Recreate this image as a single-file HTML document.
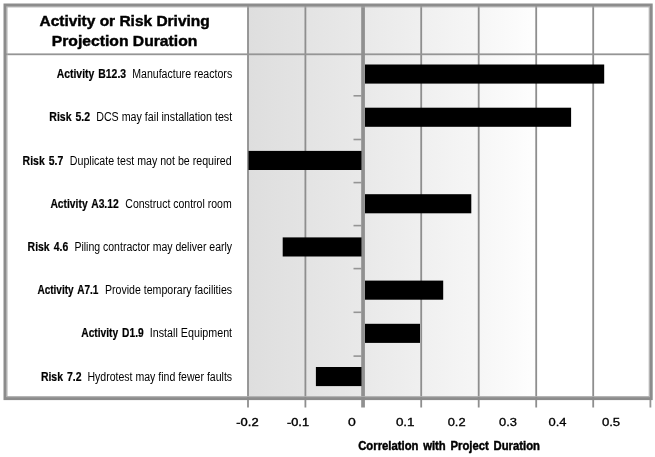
<!DOCTYPE html>
<html lang="en"><head><meta charset="utf-8"><title>Correlation with Project Duration</title>
<style>html,body{margin:0;padding:0;background:#fff}svg{display:block}text{font-family:"Liberation Sans",sans-serif;fill:#000}.b{stroke:#000;stroke-width:0.45}.m{stroke:#000;stroke-width:0.2}.n{stroke:#000;stroke-width:0.4}.p{stroke:#000;stroke-width:0.3}</style>
</head><body>
<svg width="655" height="457" viewBox="0 0 655 457">
<defs><linearGradient id="g" x1="0" y1="0" x2="1" y2="0"><stop offset="0" stop-color="#dedede"/><stop offset="0.4" stop-color="#e9e9e9"/><stop offset="0.8" stop-color="#f6f6f6"/><stop offset="1" stop-color="#fefefe"/></linearGradient></defs>
<rect width="655" height="457" fill="#fff"/>
<rect x="248" y="5" width="288.2" height="393" fill="url(#g)"/>
<rect x="247.1" y="5" width="1.8" height="402.5" fill="#8e8e8e"/>
<rect x="304.5" y="5" width="1.8" height="402.5" fill="#8e8e8e"/>
<rect x="420.3" y="5" width="1.8" height="402.5" fill="#8e8e8e"/>
<rect x="477.8" y="5" width="1.8" height="402.5" fill="#8e8e8e"/>
<rect x="535.3" y="5" width="1.8" height="402.5" fill="#8e8e8e"/>
<rect x="592.3" y="5" width="1.8" height="402.5" fill="#8e8e8e"/>
<rect x="5" y="53.4" width="645" height="1.8" fill="#959595"/>
<rect x="361.2" y="5" width="3.7" height="402.5" fill="#909090"/>
<rect x="353.5" y="95.0" width="8" height="1.6" fill="#959595"/>
<rect x="353.5" y="138.7" width="8" height="1.6" fill="#959595"/>
<rect x="353.5" y="181.8" width="8" height="1.6" fill="#959595"/>
<rect x="353.5" y="224.8" width="8" height="1.6" fill="#959595"/>
<rect x="353.5" y="267.8" width="8" height="1.6" fill="#959595"/>
<rect x="353.5" y="311.5" width="8" height="1.6" fill="#959595"/>
<rect x="353.5" y="355.3" width="8" height="1.6" fill="#959595"/>
<rect x="649.5" y="398" width="1.8" height="9.5" fill="#959595"/>
<rect x="7.0" y="6.9" width="642.2" height="389.7" fill="none" stroke="#adadad" stroke-width="1"/>
<rect x="5.0" y="5.0" width="646.2" height="393.6" fill="none" stroke="#8c8c8c" stroke-width="3"/>
<rect x="365.0" y="64.5" width="239.2" height="19.1" fill="#000"/>
<rect x="365.0" y="107.7" width="206.1" height="19.1" fill="#000"/>
<rect x="248.5" y="150.9" width="113.0" height="19.1" fill="#000"/>
<rect x="365.0" y="194.2" width="106.3" height="19.1" fill="#000"/>
<rect x="282.7" y="237.4" width="78.8" height="19.1" fill="#000"/>
<rect x="365.0" y="280.6" width="78.2" height="19.1" fill="#000"/>
<rect x="365.0" y="323.8" width="55.0" height="19.1" fill="#000"/>
<rect x="315.9" y="367.0" width="45.6" height="19.1" fill="#000"/>
<text class="b" x="39.5" y="26.2" font-size="15.4" font-weight="700" textLength="170.2" lengthAdjust="spacingAndGlyphs">Activity or Risk Driving</text>
<text class="b" x="51.8" y="45.7" font-size="15.4" font-weight="700" textLength="145.5" lengthAdjust="spacingAndGlyphs">Projection Duration</text>
<text class="m" x="56.7" y="78.2" font-size="12.3" font-weight="700" word-spacing="1.3" textLength="69.4" lengthAdjust="spacingAndGlyphs">Activity B12.3</text>
<text x="132.2" y="78.2" font-size="12.3" textLength="100.0" lengthAdjust="spacingAndGlyphs">Manufacture reactors</text>
<text class="m" x="49.3" y="121.4" font-size="12.3" font-weight="700" word-spacing="1.3" textLength="40.8" lengthAdjust="spacingAndGlyphs">Risk 5.2</text>
<text x="96.2" y="121.4" font-size="12.3" textLength="136.0" lengthAdjust="spacingAndGlyphs">DCS may fail installation test</text>
<text class="m" x="22.6" y="164.6" font-size="12.3" font-weight="700" word-spacing="1.3" textLength="40.7" lengthAdjust="spacingAndGlyphs">Risk 5.7</text>
<text x="69.8" y="164.6" font-size="12.3" textLength="161.9" lengthAdjust="spacingAndGlyphs">Duplicate test may not be required</text>
<text class="m" x="50.4" y="207.8" font-size="12.3" font-weight="700" word-spacing="1.3" textLength="68.3" lengthAdjust="spacingAndGlyphs">Activity A3.12</text>
<text x="125.3" y="207.8" font-size="12.3" textLength="106.4" lengthAdjust="spacingAndGlyphs">Construct control room</text>
<text class="m" x="27.6" y="251.0" font-size="12.3" font-weight="700" word-spacing="1.3" textLength="40.6" lengthAdjust="spacingAndGlyphs">Risk 4.6</text>
<text x="74.4" y="251.0" font-size="12.3" textLength="157.7" lengthAdjust="spacingAndGlyphs">Piling contractor may deliver early</text>
<text class="m" x="37.4" y="294.2" font-size="12.3" font-weight="700" word-spacing="1.3" textLength="61.0" lengthAdjust="spacingAndGlyphs">Activity A7.1</text>
<text x="104.9" y="294.2" font-size="12.3" textLength="127.2" lengthAdjust="spacingAndGlyphs">Provide temporary facilities</text>
<text class="m" x="81.3" y="337.4" font-size="12.3" font-weight="700" word-spacing="1.3" textLength="62.4" lengthAdjust="spacingAndGlyphs">Activity D1.9</text>
<text x="149.8" y="337.4" font-size="12.3" textLength="82.3" lengthAdjust="spacingAndGlyphs">Install Equipment</text>
<text class="m" x="40.9" y="380.6" font-size="12.3" font-weight="700" word-spacing="1.3" textLength="40.6" lengthAdjust="spacingAndGlyphs">Risk 7.2</text>
<text x="87.4" y="380.6" font-size="12.3" textLength="144.7" lengthAdjust="spacingAndGlyphs">Hydrotest may find fewer faults</text>
<text class="n" x="236.3" y="426.2" font-size="10.9" textLength="22.3" lengthAdjust="spacingAndGlyphs">-0.2</text>
<text class="n" x="287.0" y="426.2" font-size="10.9" textLength="22.0" lengthAdjust="spacingAndGlyphs">-0.1</text>
<text class="p" x="348.0" y="426.2" font-size="10.9" textLength="7.8" lengthAdjust="spacingAndGlyphs">0</text>
<text class="p" x="395.9" y="426.2" font-size="10.9" textLength="18.7" lengthAdjust="spacingAndGlyphs">0.1</text>
<text class="p" x="447.7" y="426.2" font-size="10.9" textLength="17.9" lengthAdjust="spacingAndGlyphs">0.2</text>
<text class="p" x="499.0" y="426.2" font-size="10.9" textLength="17.9" lengthAdjust="spacingAndGlyphs">0.3</text>
<text class="p" x="548.5" y="426.2" font-size="10.9" textLength="18.0" lengthAdjust="spacingAndGlyphs">0.4</text>
<text class="p" x="601.9" y="426.2" font-size="10.9" textLength="18.3" lengthAdjust="spacingAndGlyphs">0.5</text>
<text class="b" x="358.2" y="449.8" font-size="12.8" font-weight="700" word-spacing="1.8" textLength="181.8" lengthAdjust="spacingAndGlyphs">Correlation with Project Duration</text>
</svg></body></html>
